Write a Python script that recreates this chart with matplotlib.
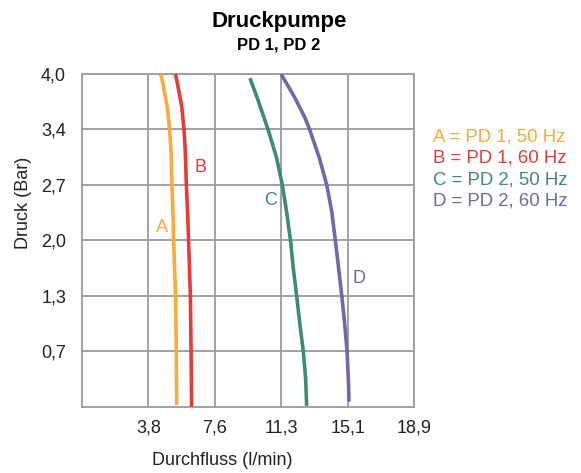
import numpy as np
import matplotlib
matplotlib.use("Agg")
import matplotlib.pyplot as plt

plt.rcParams['font.family'] = ['Liberation Sans', 'DejaVu Sans']

# axis ticks (evenly spaced on the chart, labels as printed)
x_ticks = [3.78, 7.56, 11.34, 15.12, 18.9]
x_labels = ['3,8', '7,6', '11,3', '15,1', '18,9']
y_ticks = [2/3, 4/3, 2.0, 8/3, 10/3, 4.0]
y_labels = ['0,7', '1,3', '2,0', '2,7', '3,4', '4,0']

# curves: flow (l/min) vs pressure (bar)
a_flow = [4.44, 4.50, 4.69, 4.86, 4.99, 5.07, 5.12, 5.18, 5.22, 5.33, 5.37, 5.39]
a_pres = [4.00, 3.99, 3.79, 3.59, 3.32, 3.07, 2.67, 2.30, 1.98, 1.33, 0.66, 0.02]
b_flow = [5.30, 5.33, 5.52, 5.69, 5.81, 5.88, 5.94, 6.02, 6.07, 6.17, 6.21, 6.24]
b_pres = [4.00, 3.99, 3.79, 3.59, 3.32, 3.07, 2.67, 2.30, 1.98, 1.33, 0.66, 0.00]
c_flow = [9.56, 9.98, 10.61, 11.08, 11.40, 11.65, 11.88, 12.03, 12.22, 12.41, 12.60, 12.73, 12.79]
c_pres = [3.95, 3.71, 3.32, 2.99, 2.67, 2.34, 1.98, 1.66, 1.33, 0.98, 0.66, 0.34, 0.01]
d_flow = [11.33, 12.13, 12.70, 12.98, 13.51, 13.93, 14.22, 14.42, 14.61, 14.79, 14.96, 15.09, 15.16, 15.20]
d_pres = [4.00, 3.71, 3.47, 3.32, 2.99, 2.67, 2.34, 2.00, 1.66, 1.33, 0.98, 0.66, 0.34, 0.06]

names = ['A', 'B', 'C', 'D']
legend = ['A = PD 1, 50 Hz', 'B = PD 1, 60 Hz', 'C = PD 2, 50 Hz', 'D = PD 2, 60 Hz']
colors = ['#F8AA3C', '#E93A3A', '#3F8C6C', '#6A6BA8']
label_pos = [(4.54, 2.16), (6.72, 2.88), (10.74, 2.48), (15.79, 1.54)]

fig = plt.figure(figsize=(5.81, 4.73), dpi=100)
ax = fig.add_axes([0.1411, 0.1402, 0.5715, 0.7034])

curves = [(a_flow, a_pres), (b_flow, b_pres), (c_flow, c_pres), (d_flow, d_pres)]
for (fx, py), c in zip(curves, colors):
    ax.plot(fx, py, color=c, lw=2.6, solid_capstyle='butt', solid_joinstyle='round', zorder=3)

for n, (lx, ly), c in zip(names, label_pos, colors):
    ax.text(lx, ly, n, color=c, fontsize=13, ha='center', va='center')

ax.set_xlim(0, 18.9)
ax.set_ylim(0, 4.0)
ax.set_xticks(x_ticks)
ax.set_xticklabels(x_labels)
ax.set_yticks(y_ticks)
ax.set_yticklabels(y_labels)
ax.tick_params(length=0, labelsize=13, colors='#222222')
ax.tick_params(axis='x', pad=9)
ax.tick_params(axis='y', pad=11.5)
ax.grid(True, color='#9B9B9E', lw=1.3)
for s in ax.spines.values():
    s.set_color('#9B9B9E')
    s.set_linewidth(1.3)

fig.text(0.383, 0.027, 'Durchfluss (l/min)', fontsize=13, color='#222222', ha='center', va='center')
fig.text(0.040, 0.572, 'Druck (Bar)', fontsize=13, color='#222222', ha='center', va='center', rotation=90)

fig.text(0.480, 0.955, 'Druckpumpe', fontsize=16, fontweight='bold', ha='center', va='center',
         family=['Liberation Sans Narrow', 'Liberation Sans'])
fig.text(0.480, 0.905, 'PD 1, PD 2', fontsize=12, fontweight='bold', ha='center', va='center',
         family=['Liberation Sans Narrow', 'Liberation Sans'])

for i, (t, c) in enumerate(zip(legend, colors)):
    fig.text(0.745, 0.711 - i * 0.0455, t, color=c, fontsize=13.4, ha='left', va='center')

fig.savefig('out.png', dpi=100)
